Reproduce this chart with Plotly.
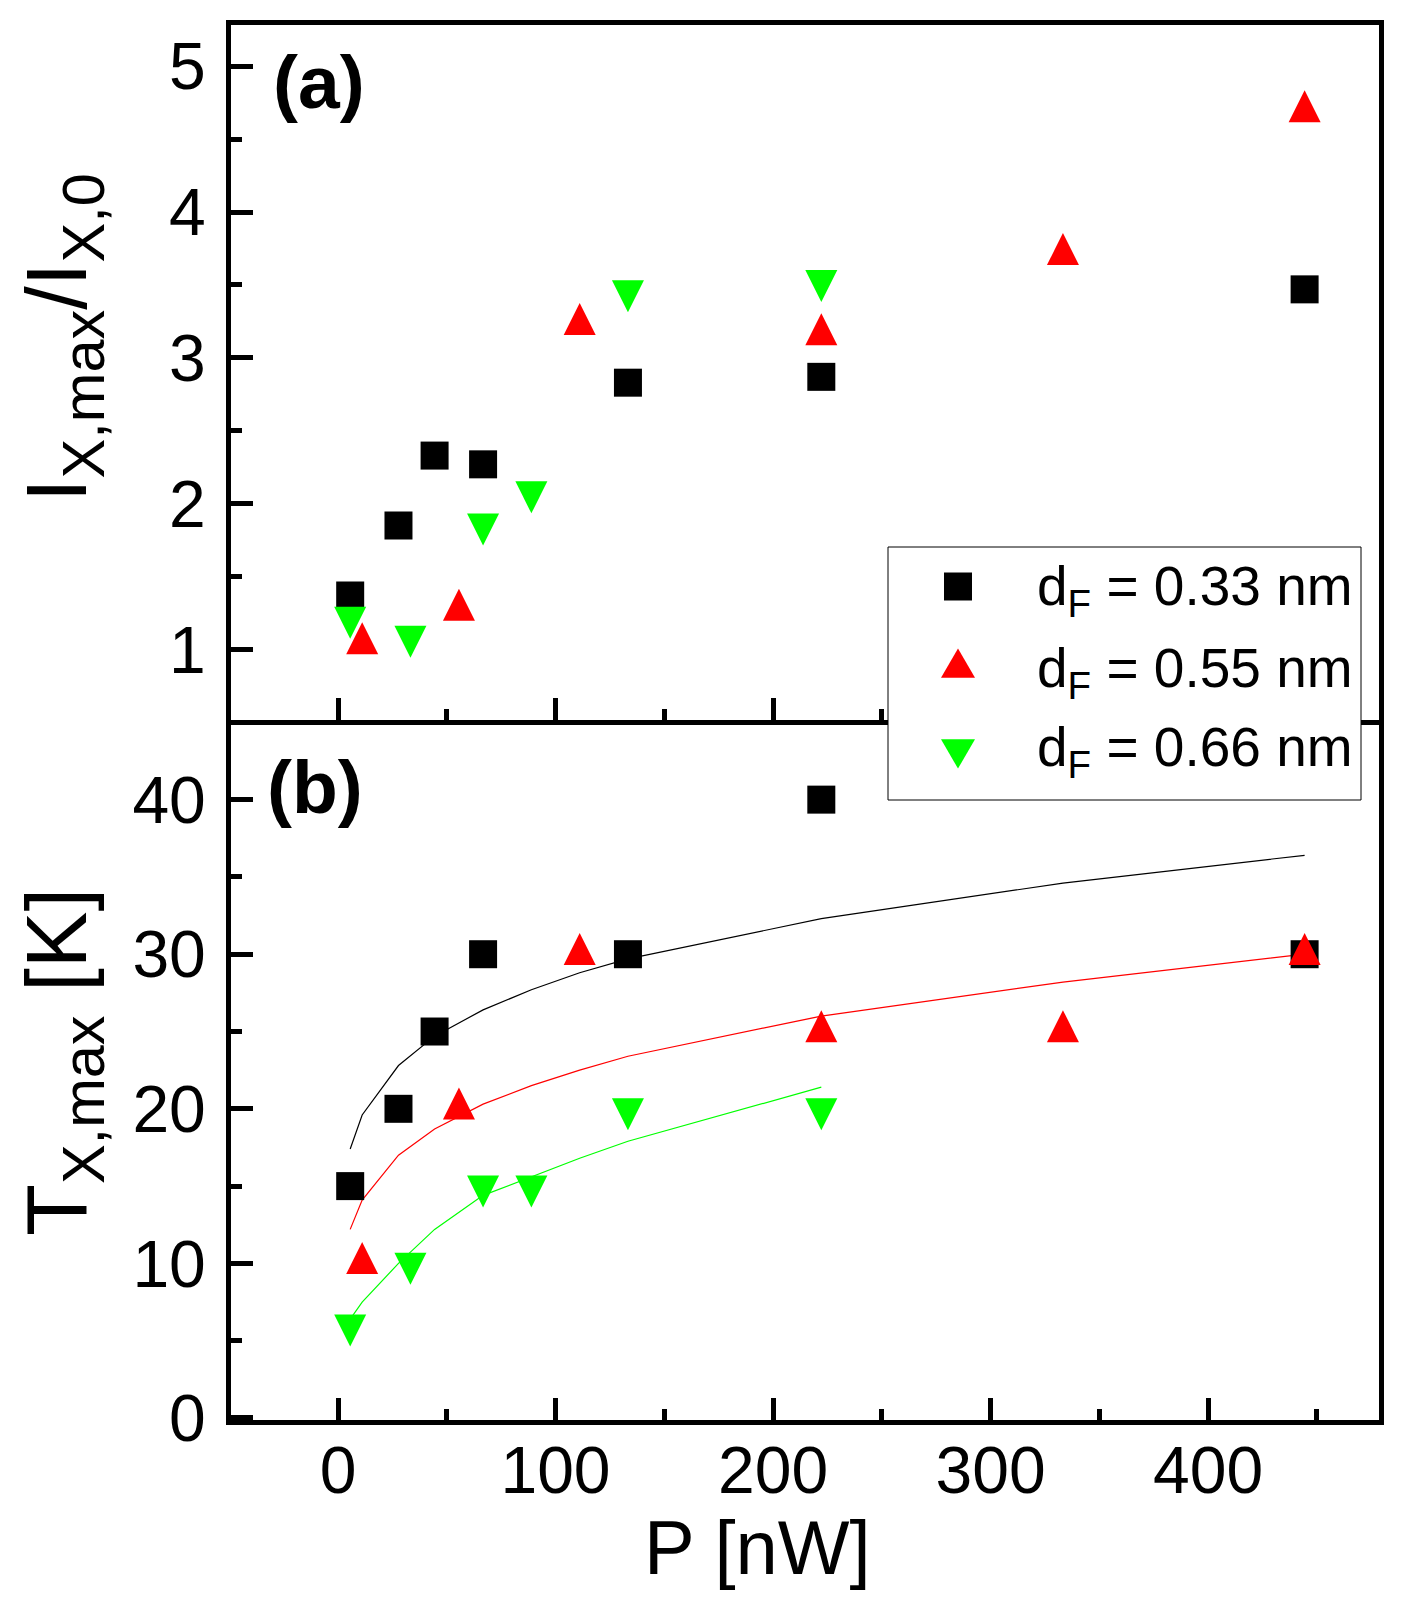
import plotly.graph_objects as go

# ---------------- data ----------------
P_033 = [5.6, 27.8, 44.4, 66.7, 133.3, 222.2, 444.4]
I_033 = [1.37, 1.85, 2.33, 2.27, 2.83, 2.87, 3.47]
T_033 = [15, 20, 25, 30, 30, 40, 30]

P_055 = [11.1, 55.6, 111.1, 222.2, 333.3, 444.4]
I_055 = [1.04, 1.27, 3.23, 3.16, 3.71, 4.69]
T_055 = [10, 20, 30, 25, 25, 30]

P_066 = [5.6, 33.3, 66.7, 88.9, 133.3, 222.2]
I_066 = [1.22, 1.09, 1.86, 2.08, 3.46, 3.53]
T_066 = [6, 10, 15, 15, 20, 20]

FIT_P = [5.6, 11.1, 27.8, 44.4, 66.7, 88.9, 111.1, 133.3, 222.2, 333.3, 444.4]
FIT_T_033 = [17.4, 19.6, 22.8, 24.7, 26.4, 27.7, 28.8, 29.7, 32.3, 34.6, 36.4]
FIT_T_055 = [12.2, 14.1, 17.0, 18.7, 20.3, 21.5, 22.5, 23.4, 26.0, 28.2, 30.0]
FIT_P_066 = [5.6, 11.1, 27.8, 44.4, 66.7, 88.9, 111.1, 133.3, 222.2]
FIT_T_066 = [6.4, 7.5, 10.0, 12.2, 14.4, 15.6, 16.8, 17.9, 21.4]

LABELS = ["0.33", "0.55", "0.66"]
COLORS = ["#000000", "#FF0000", "#00FF00"]

# ---------------- layout geometry ----------------
PAGE_W, PAGE_H = 1406, 1619
OFF = 8  # default page margin around the plot div
FIG_W, FIG_H = PAGE_W - OFF, PAGE_H - OFF
# plot area in page pixels
PL, PR, PT, PB = 231, 1379, 25, 1420
ML, MR, MT, MB = PL - OFF, PAGE_W - PR, PT - OFF, PAGE_H - PB
PW = FIG_W - ML - MR
PH = FIG_H - MT - MB
FONT = "Liberation Sans, Arial, sans-serif"


def fx(px):
    return (px - PL) / PW


def fy(py):
    return (PB - py) / PH


TOP_DOM = [fy(719.5), 1.0]
BOT_DOM = [0.0, fy(724.5)]
XR = [-49.2, 478.6]
YR_TOP = [0.52, 5.283]
YR_BOT = [-0.13, 44.86]

MS_SQ = 28
R_TRI = 16
MS_TRI = 2 * R_TRI
STANDOFF = 4 * R_TRI / 3

fig = go.Figure()

# fit lines (bottom panel)
for xs, ys, c in [(FIT_P, FIT_T_033, COLORS[0]), (FIT_P, FIT_T_055, COLORS[1]),
                  (FIT_P_066, FIT_T_066, COLORS[2])]:
    fig.add_trace(go.Scatter(x=xs, y=ys, mode="lines", line=dict(color=c, width=1.2),
                             xaxis="x", yaxis="y", showlegend=False, hoverinfo="skip"))


def add_markers(xs, ys, kind, color, xa, ya):
    if kind == "square":
        m = dict(symbol="square", size=MS_SQ, color=color, line=dict(width=0))
    elif kind == "up":
        m = dict(symbol="arrow-down", size=MS_TRI, angle=180, standoff=STANDOFF,
                 color=color, line=dict(width=0))
    else:
        m = dict(symbol="arrow-down", size=MS_TRI, angle=0, standoff=STANDOFF,
                 color=color, line=dict(width=0))
    fig.add_trace(go.Scatter(x=xs, y=ys, mode="markers", marker=m, xaxis=xa, yaxis=ya,
                             showlegend=False))


# top panel
add_markers(P_033, I_033, "square", COLORS[0], "x2", "y2")
add_markers(P_055, I_055, "up", COLORS[1], "x2", "y2")
add_markers(P_066, I_066, "down", COLORS[2], "x2", "y2")
# bottom panel
add_markers(P_033, T_033, "square", COLORS[0], "x", "y")
add_markers(P_055, T_055, "up", COLORS[1], "x", "y")
add_markers(P_066, T_066, "down", COLORS[2], "x", "y")

axis_common = dict(
    showline=True, linewidth=5, linecolor="black", mirror=True,
    ticks="inside", ticklen=22, tickwidth=5, tickcolor="black",
    showgrid=False, zeroline=False,
    tickfont=dict(family=FONT, size=66, color="black"),
)
minor_common = dict(ticks="inside", ticklen=11, tickwidth=5, tickcolor="black", showgrid=False)

fig.update_layout(
    width=FIG_W, height=FIG_H,
    margin=dict(l=ML, r=MR, t=MT, b=MB),
    paper_bgcolor="white", plot_bgcolor="white",
    showlegend=False,
    xaxis=dict(axis_common, domain=[0, 1], range=XR, anchor="y", dtick=100, tick0=0,
               ticklabelstandoff=-11,
               minor=dict(minor_common, dtick=50, tick0=0)),
    yaxis=dict(axis_common, domain=BOT_DOM, range=YR_BOT, anchor="x", dtick=10, tick0=0,
               ticklabelstandoff=7,
               minor=dict(minor_common, dtick=5, tick0=0)),
    xaxis2=dict(axis_common, domain=[0, 1], range=XR, anchor="y2", matches="x",
                dtick=100, tick0=0, showticklabels=False,
                minor=dict(minor_common, dtick=50, tick0=0)),
    yaxis2=dict(axis_common, domain=TOP_DOM, range=YR_TOP, anchor="x2", dtick=1, tick0=0,
                ticklabelstandoff=7,
                minor=dict(minor_common, dtick=0.5, tick0=0)),
)

# ---------------- manual legend ----------------
shapes = [dict(type="rect", xref="paper", yref="paper", layer="above",
               x0=fx(888), x1=fx(1361), y0=fy(800), y1=fy(547),
               line=dict(color="black", width=1), fillcolor="white")]
LX = 958
ROW_Y = [586.5, 668, 749]
shapes.append(dict(type="rect", xref="paper", yref="paper", layer="above",
                   x0=fx(LX - 14), x1=fx(LX + 14), y0=fy(ROW_Y[0] + 14), y1=fy(ROW_Y[0] - 14),
                   line=dict(width=0), fillcolor=COLORS[0]))
hw, h = 17, 29.4
tip = ROW_Y[1] - 2 * h / 3
base = ROW_Y[1] + h / 3
shapes.append(dict(type="path", xref="paper", yref="paper", layer="above",
                   path=f"M {fx(LX - hw)},{fy(base)} L {fx(LX + hw)},{fy(base)} L {fx(LX)},{fy(tip)} Z",
                   line=dict(width=0), fillcolor=COLORS[1]))
top = ROW_Y[2] - h / 3
tip = ROW_Y[2] + 2 * h / 3
shapes.append(dict(type="path", xref="paper", yref="paper", layer="above",
                   path=f"M {fx(LX - hw)},{fy(top)} L {fx(LX + hw)},{fy(top)} L {fx(LX)},{fy(tip)} Z",
                   line=dict(width=0), fillcolor=COLORS[2]))
fig.update_layout(shapes=shapes)

ann = []
TEXT_Y = [590, 672, 751]
for lab, ty in zip(LABELS, TEXT_Y):
    ann.append(dict(xref="paper", yref="paper", x=fx(1035), y=fy(ty), xanchor="left",
                    yanchor="middle", showarrow=False,
                    text=f"d<sub>F</sub> = {lab} nm",
                    font=dict(family=FONT, size=55, color="black")))

ann.append(dict(xref="paper", yref="paper", x=fx(319), y=fy(82), xanchor="center",
                yanchor="middle", showarrow=False, text="<b>(a)</b>",
                font=dict(family=FONT, size=75, color="black")))
ann.append(dict(xref="paper", yref="paper", x=fx(315), y=fy(787), xanchor="center",
                yanchor="middle", showarrow=False, text="<b>(b)</b>",
                font=dict(family=FONT, size=75, color="black")))
ann.append(dict(xref="paper", yref="paper", x=fx(757), y=fy(1547), xanchor="center",
                yanchor="middle", showarrow=False, text="P [nW]",
                font=dict(family=FONT, size=76, color="black")))
ann.append(dict(xref="paper", yref="paper", x=fx(63), y=fy(338), xanchor="center",
                yanchor="middle", showarrow=False, textangle=-90,
                text="I<sub>X,max</sub>/I<sub>X,0</sub>",
                font=dict(family=FONT, size=85, color="black")))
ann.append(dict(xref="paper", yref="paper", x=fx(63), y=fy(1062), xanchor="center",
                yanchor="middle", showarrow=False, textangle=-90,
                text="T<sub>X,max</sub> [K]",
                font=dict(family=FONT, size=85, color="black")))
fig.update_layout(annotations=ann)

fig.write_html("out.html")
